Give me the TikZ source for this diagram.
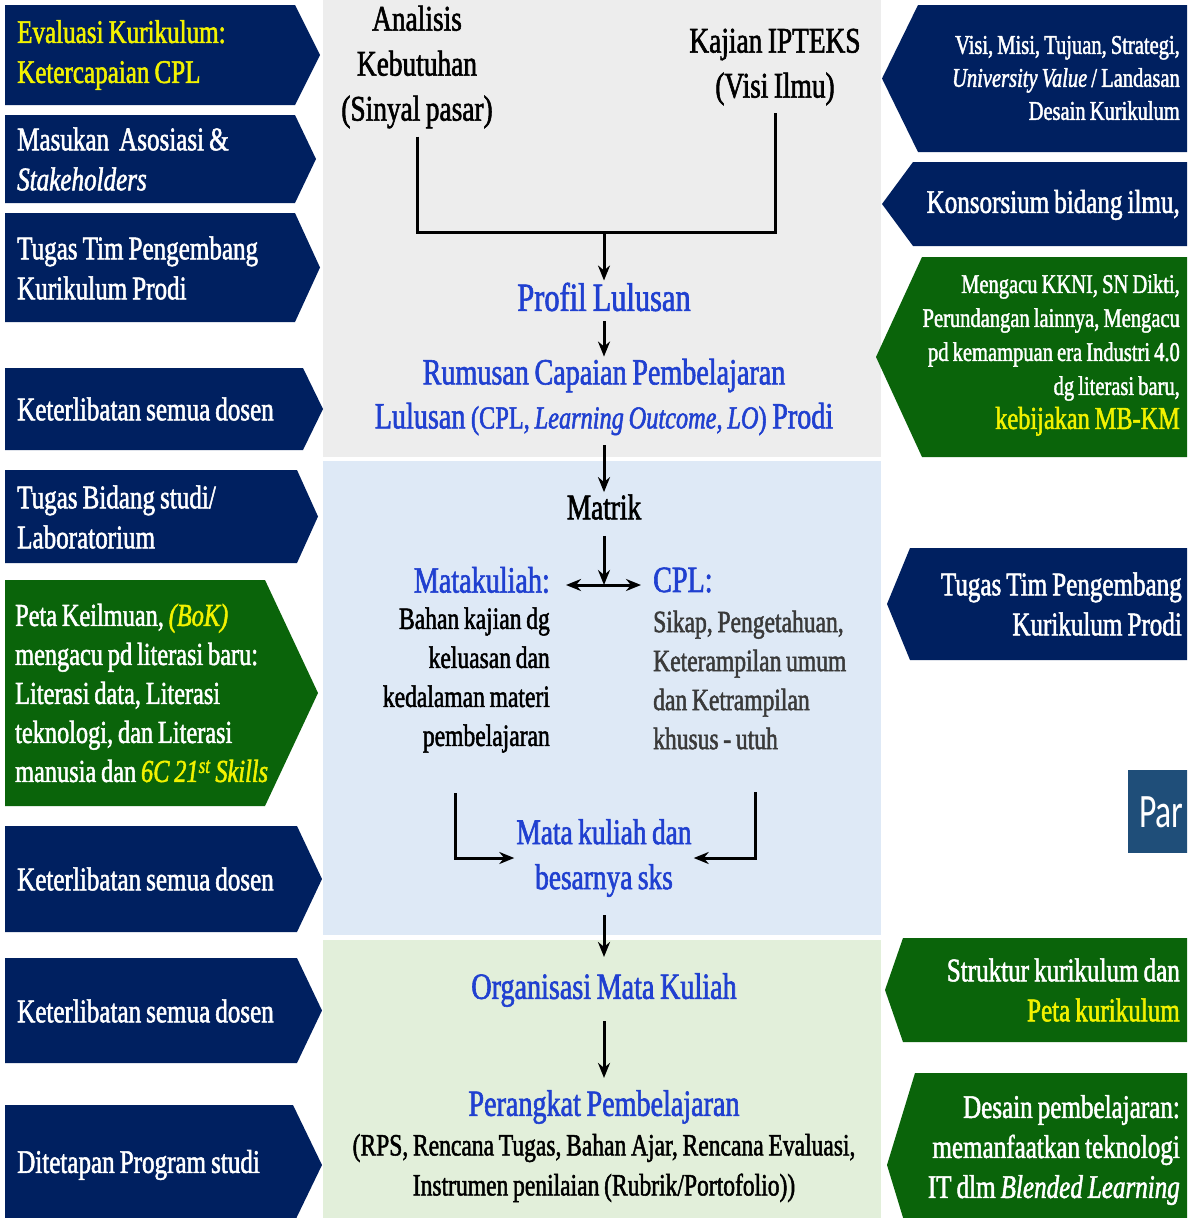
\documentclass[tikz,border=0pt]{standalone}
\usepackage{fontspec}
\setmainfont[FakeStretch=0.76,FakeBold=1.6,WordSpace=0.8]{Liberation Serif}
\newfontfamily\parfont[FakeStretch=0.7]{Carlito}
\usetikzlibrary{arrows.meta,calc}

\definecolor{navy}{HTML}{002060}
\definecolor{leafgreen}{HTML}{0A640A}
\definecolor{hiyellow}{HTML}{F2F200}
\definecolor{flowblue}{HTML}{2040D0}
\definecolor{panelgray}{HTML}{EDEDED}
\definecolor{panelblue}{HTML}{DEE9F6}
\definecolor{panelgreen}{HTML}{E2EFDA}
\definecolor{steel}{HTML}{1F4E79}
\definecolor{softblack}{HTML}{3A3A3A}

% tab pointing right: colour, top, bottom, body end x, tip x
\newcommand\arrowtabR[5]{%
  \fill[#1] (5,#2) -- (#4,#2) -- (#5,{(#2+#3)/2}) -- (#4,#3) -- (5,#3) -- cycle;}
% tab pointing left: colour, top, bottom, body start x, tip x
\newcommand\arrowtabL[5]{%
  \fill[#1] (1195,#2) -- (#4,#2) -- (#5,{(#2+#3)/2}) -- (#4,#3) -- (1195,#3) -- cycle;}

\begin{document}
\begin{tikzpicture}[x=1pt,y=-1pt,
  every node/.style={inner sep=2pt},
  lefttxt/.style={anchor=west, align=left, text=white, font=\fontsize{33}{40}\selectfont},
  righttxt/.style={anchor=east, align=right, text=white, font=\fontsize{33}{40}\selectfont},
  flowtxt/.style={align=center, text=flowblue, font=\fontsize{37}{44}\selectfont},
  plaintxt/.style={align=center, text=black, font=\fontsize{36}{45}\selectfont},
  link/.style={line width=3pt, draw=black},
  arr/.style={link, -{Stealth[length=15pt,width=12pt]}},
  twoway/.style={link, {Stealth[length=15pt,width=12pt]}-{Stealth[length=15pt,width=12pt]}},
]
\useasboundingbox (0,0) rectangle (1187,1218);
\clip (0,0) rectangle (1187,1218);
\fill[white] (0,0) rectangle (1187,1218);

% central panels
\fill[panelgray]  (323,0)   rectangle (881,457);
\fill[panelblue]  (323,461) rectangle (881,935);
\fill[panelgreen] (323,940) rectangle (881,1218);

% left column tabs
\arrowtabR{navy}{5}{105}{295}{320}
\arrowtabR{navy}{115}{203}{295}{316}
\arrowtabR{navy}{213}{322}{295}{320}
\arrowtabR{navy}{368}{450}{303}{323}
\arrowtabR{navy}{470}{563}{297}{318}
\arrowtabR{leafgreen}{580}{806}{265}{318}
\arrowtabR{navy}{826}{932}{297}{322}
\arrowtabR{navy}{958}{1063}{297}{322}
\arrowtabR{navy}{1105}{1225}{293}{322}

% right column tabs
\arrowtabL{navy}{5}{152}{918}{882}
\arrowtabL{navy}{162}{246}{913}{882}
\arrowtabL{leafgreen}{257}{457}{922}{876}
\arrowtabL{navy}{548}{660}{910}{887}
\arrowtabL{leafgreen}{938}{1042}{903}{885}
\arrowtabL{leafgreen}{1073}{1257}{915}{887}
\fill[steel] (1128,770) rectangle (1195,853);

% left column texts
\node[lefttxt, text=hiyellow] (evalcpl) at (15,55) {Evaluasi Kurikulum:\\Ketercapaian CPL};
\node[lefttxt] (asosiasi) at (15,159) {Masukan\ \ Asosiasi \&\\\textit{Stakeholders}};
\node[lefttxt] (timprodi) at (15,268) {Tugas Tim Pengembang\\Kurikulum Prodi};
\node[lefttxt] (dosenA) at (15,409) {Keterlibatan semua dosen};
\node[lefttxt] (bidang) at (15,517) {Tugas Bidang studi/\\Laboratorium};
\node[lefttxt, font=\fontsize{32}{39}\selectfont] (keilmuan) at (13,693)
  {Peta Keilmuan, \textcolor{hiyellow}{\textit{(BoK)}}\\mengacu pd literasi baru:\\Literasi data, Literasi\\teknologi, dan Literasi\\manusia dan \textcolor{hiyellow}{\textit{6C 21\textsuperscript{st} Skills}}};
\node[lefttxt] (dosenB) at (15,879) {Keterlibatan semua dosen};
\node[lefttxt] (dosenC) at (15,1011) {Keterlibatan semua dosen};
\node[lefttxt] (ditetapkan) at (15,1165) {Ditetapan Program studi};

% right column texts
\node[righttxt, font=\fontsize{27}{33}\selectfont] (visi) at (1182,78)
  {Visi, Misi, Tujuan, Strategi,\\\textit{University Value} / Landasan\\Desain Kurikulum};
\node[righttxt] (konsorsium) at (1182,205) {Konsorsium bidang ilmu,};
\node[righttxt, font=\fontsize{27}{34}\selectfont] (kkni) at (1182,355)
  {Mengacu KKNI, SN Dikti,\\Perundangan lainnya, Mengacu\\pd kemampuan era Industri 4.0\\dg literasi baru,\\{\fontsize{32}{36}\selectfont\textcolor{hiyellow}{kebijakan MB-KM}}};
\node[righttxt] (timprodiR) at (1184,604) {Tugas Tim Pengembang\\Kurikulum Prodi};
\node[anchor=west, text=white, font=\parfont\fontsize{48}{54}\selectfont, inner sep=0pt] (parhead) at (1139,812) {Par};
\node[righttxt] (struktur) at (1182,990) {Struktur kurikulum dan\\\textcolor{hiyellow}{Peta kurikulum}};
\node[righttxt] (desain) at (1182,1150) {Desain pembelajaran:\\memanfaatkan teknologi\\IT dlm \textit{Blended Learning}};

% central flow
\node[plaintxt] (need) at (417,67) {Analisis\\Kebutuhan\\(Sinyal pasar)};
\node[plaintxt] (ipteks) at (775,67) {Kajian IPTEKS\\(Visi Ilmu)};
\node[flowtxt, font=\fontsize{40}{44}\selectfont] (profil) at (604,297) {Profil Lulusan};
\node[flowtxt] (rumusan) at (604,397) {Rumusan Capaian Pembelajaran\\Lulusan {\fontsize{32}{44}\selectfont(CPL, \textit{Learning Outcome, LO})} Prodi};
\node[plaintxt] (matrik) at (604,507) {Matrik};
\node[flowtxt, anchor=east] (mk) at (552,580) {Matakuliah:};
\node[flowtxt, anchor=west] (cplhead) at (651,580) {CPL:};
\node[anchor=east, align=right, font=\fontsize{31}{39}\selectfont] (mkbody) at (552,680)
  {Bahan kajian dg\\keluasan dan\\kedalaman materi\\pembelajaran};
\node[anchor=west, align=left, text=softblack, font=\fontsize{31}{39}\selectfont] (cplbody) at (651,680)
  {Sikap, Pengetahuan,\\Keterampilan umum\\dan Ketrampilan\\khusus - utuh};
\node[flowtxt, font=\fontsize{36}{45}\selectfont] (mksks) at (604,858) {Mata kuliah dan\\besarnya sks};
\node[flowtxt] (organisasi) at (604,990) {Organisasi Mata Kuliah};
\node[flowtxt] (perangkat) at (604,1107) {Perangkat Pembelajaran};
\node[align=center, font=\fontsize{31}{40}\selectfont] (perangkatlist) at (604,1168)
  {(RPS, Rencana Tugas, Bahan Ajar, Rencana Evaluasi,\\Instrumen penilaian (Rubrik/Portofolio))};

% connectors
\coordinate (merge) at (604,232);
\coordinate (split) at (604,585);
\coordinate (mkfoot) at (455,793);
\coordinate (cplfoot) at (755,792);
\draw[link] ([yshift=-6pt]need.south) |- (merge) -| ([yshift=-6pt]ipteks.south);
\draw[arr] (merge) -- (profil.north);
\draw[arr, shorten <=8pt] (profil.south) -- (rumusan.north);
\draw[arr, shorten <=8pt] (rumusan.south) -- (matrik.north);
\draw[arr, shorten <=14pt] (matrik.south) -- (split);
\draw[twoway, shorten <=14pt, shorten >=10pt] (mk.east |- split) -- (cplhead.west |- split);
\draw[arr] (mkfoot) |- (mksks.west);
\draw[arr] (cplfoot) |- (mksks.east);
\draw[arr, shorten <=16pt, shorten >=14pt] (mksks.south) -- (organisasi.north);
\draw[arr, shorten <=12pt, shorten >=10pt] (organisasi.south) -- (perangkat.north);
\end{tikzpicture}
\end{document}
